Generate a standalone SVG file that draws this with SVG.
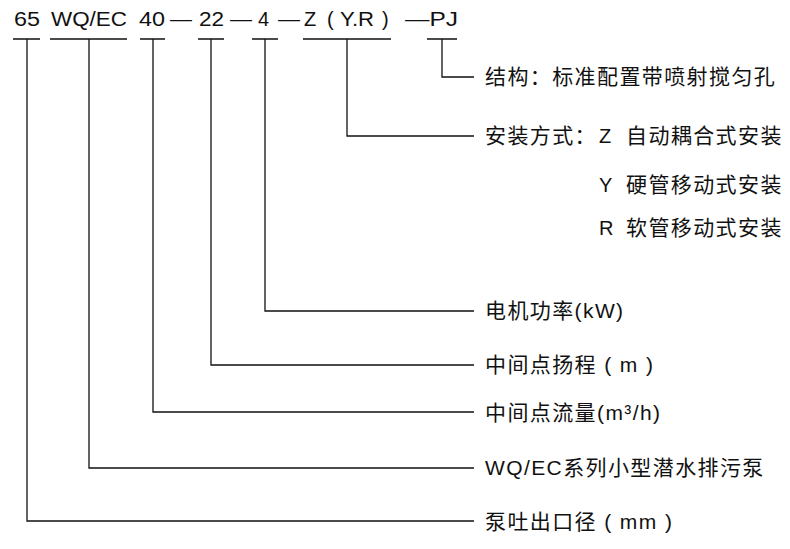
<svg xmlns="http://www.w3.org/2000/svg" width="790" height="549" viewBox="0 0 790 549">
<style>
text{font-family:"Liberation Sans","Noto Sans CJK SC",sans-serif;font-size:20px;fill:#111}
.c{font-size:21px;letter-spacing:1.4px}
.l{stroke:#111;stroke-width:1.3;fill:none}
</style>
<rect width="790" height="549" fill="#fff"/>
<g id="header">
<text x="14" y="26" textLength="26" lengthAdjust="spacingAndGlyphs">65</text>
<text x="51" y="26" textLength="76" lengthAdjust="spacingAndGlyphs">WQ/EC</text>
<text x="139" y="26" textLength="26" lengthAdjust="spacingAndGlyphs">40</text>
<text x="170" y="26" textLength="22" lengthAdjust="spacingAndGlyphs">—</text>
<text x="199" y="26" textLength="25" lengthAdjust="spacingAndGlyphs">22</text>
<text x="230" y="26" textLength="22" lengthAdjust="spacingAndGlyphs">—</text>
<text x="258" y="26">4</text>
<text x="278" y="26" textLength="22" lengthAdjust="spacingAndGlyphs">—</text>
<text x="304" y="26">Z</text>
<text x="327" y="26">(</text>
<text x="340" y="26" textLength="34" lengthAdjust="spacingAndGlyphs">Y.R</text>
<text x="382" y="26">)</text>
<text x="405" y="26" textLength="53" lengthAdjust="spacingAndGlyphs">—PJ</text>
</g>
<g id="connectors" class="l">
<path d="M13 39H40M50 39H127M140 39H165M198 39H224M252 39H278M303 39H391M427 39H457"/>
<path d="M442 39V77H474"/>
<path d="M347 39V136H474"/>
<path d="M265 39V311H474"/>
<path d="M211 39V365H474"/>
<path d="M153 39V412H474"/>
<path d="M89 39V468H474"/>
<path d="M27 39V521H474"/>
</g>
<g id="n-pj"><text class="c" x="485" y="84">结构：标准配置带喷射搅匀孔</text></g>
<g id="n-install">
<text class="c" x="485" y="143">安装方式：</text>
<text x="599" y="143">Z</text><text class="c" x="626" y="143">自动耦合式安装</text>
<text x="599" y="192">Y</text><text class="c" x="626" y="192">硬管移动式安装</text>
<text x="599" y="235">R</text><text class="c" x="626" y="235">软管移动式安装</text>
</g>
<g id="n-kw"><text class="c" x="485" y="318">电机功率(kW)</text></g>
<g id="n-head"><text class="c" x="485" y="372">中间点扬程 ( m )</text></g>
<g id="n-flow"><text class="c" x="485" y="420">中间点流量(m³/h)</text></g>
<g id="n-series"><text class="c" x="485" y="475">WQ/EC系列小型潜水排污泵</text></g>
<g id="n-dia"><text class="c" x="485" y="529">泵吐出口径 ( mm )</text></g>
</svg>
